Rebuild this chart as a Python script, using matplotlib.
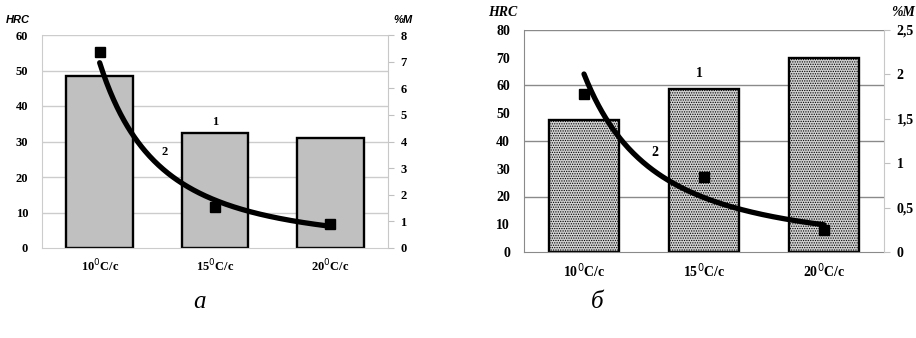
import matplotlib
matplotlib.use("Agg")
import matplotlib.pyplot as plt
import numpy as np
from matplotlib.ticker import FuncFormatter

categories = ["10$^{0}$C/c", "15$^{0}$C/c", "20$^{0}$C/c"]

# panel a
hrc_a = [48.5, 32.5, 31.0]
m_a = [7.37, 1.54, 0.90]
# panel б
hrc_b = [47.5, 58.7, 70.0]
m_b = [1.78, 0.845, 0.25]

panel_letters = ["а", "б"]

SERIF = "Liberation Serif"
SANS = "Liberation Sans"

plt.rcParams["hatch.color"] = "#7a7a7a"
plt.rcParams["hatch.linewidth"] = 0.6

fig = plt.figure(figsize=(9.16, 3.38), dpi=100)


def power_trend(values):
    # Excel-style power trendline through the marker values
    xs = np.arange(1, len(values) + 1)
    b, ln_a = np.polyfit(np.log(xs), np.log(values), 1)
    xx = np.linspace(1, len(values), 200)
    return xx - 1, np.exp(ln_a) * xx ** b


def panel(rect, hrc, pct, hrc_max, hrc_step, pct_max, pct_step, grid_step,
          grid_color, bar_kw, fs, lab1, lab2, pct_fmt):
    ax = fig.add_axes(rect)
    x = np.arange(len(categories))
    ax.bar(x, hrc, width=0.58, edgecolor="black", linewidth=1.7, zorder=2, **bar_kw)
    ax.set_xlim(-0.5, 2.5)
    ax.set_ylim(0, hrc_max)
    ax.set_yticks(np.arange(0, hrc_max + 1, hrc_step))
    for g in np.arange(grid_step, hrc_max + 1, grid_step):
        ax.axhline(g, color=grid_color, lw=1.0, zorder=1)
    ax.set_xticks(x)
    ax.set_xticklabels(categories, fontfamily=SERIF, fontweight="bold", fontsize=fs)
    ax.tick_params(axis="x", length=0, pad=7)
    ax.tick_params(axis="y", length=0, pad=10)
    for t in ax.get_yticklabels():
        t.set_fontfamily(SERIF)
        t.set_fontweight("bold")
        t.set_fontsize(fs)
    for s in ["top", "right"]:
        ax.spines[s].set_visible(False)
    ax.spines["left"].set_color(grid_color)
    ax.spines["bottom"].set_color(grid_color)

    ax2 = ax.twinx()
    ax2.set_ylim(0, pct_max)
    ax2.set_yticks(np.arange(0, pct_max + 1e-9, pct_step))
    ax2.yaxis.set_major_formatter(FuncFormatter(pct_fmt))
    ax2.tick_params(axis="y", length=4, color="#c0c0c0", pad=5)
    for t in ax2.get_yticklabels():
        t.set_fontfamily(SERIF)
        t.set_fontweight("bold")
        t.set_fontsize(fs)
    for s in ["top", "left", "bottom"]:
        ax2.spines[s].set_visible(False)
    ax2.spines["right"].set_color("#c8c8c8")
    cx, cy = power_trend(pct)
    ax2.plot(cx, cy, color="black", lw=3.8, solid_capstyle="round", zorder=3)
    ax2.plot(x, pct, "s", color="black", ms=6.5, zorder=4)
    ax2.text(*lab1, "1", fontfamily=SERIF, fontweight="bold", fontsize=fs,
             ha="center", va="center", transform=ax.transData)
    ax2.text(*lab2, "2", fontfamily=SERIF, fontweight="bold", fontsize=fs,
             ha="center", va="center", transform=ax.transData)
    return ax, ax2


def fmt_int(v, pos):
    return f"{v:.0f}"


def fmt_comma(v, pos):
    s = f"{v:g}"
    return s.replace(".", ",")


# panel a
ax_a, ax_a2 = panel([42 / 916, 90 / 338, 346 / 916, 213 / 338], hrc_a, m_a,
                    60, 10, 8, 1, 10, "#cccccc",
                    dict(color="#c0c0c0"), 9,
                    (1.0, 35.5), (0.56, 27.0), fmt_int)
# panel б
ax_b, ax_b2 = panel([524 / 916, 86 / 338, 360 / 916, 222 / 338], hrc_b, m_b,
                    80, 10, 2.5, 0.5, 20, "#8a8a8a",
                    dict(facecolor="#d2d2d2", hatch="......."), 10,
                    (0.96, 64.5), (0.59, 35.7), fmt_comma)

fig.text(18 / 916, 1 - 20 / 338, "HRC", fontfamily=SANS, fontstyle="italic",
         fontweight="bold", fontsize=8, ha="center", va="center")
fig.text(403 / 916, 1 - 20 / 338, "%M", fontfamily=SANS, fontstyle="italic",
         fontweight="bold", fontsize=8, ha="center", va="center")
fig.text(503 / 916, 1 - 13 / 338, "HRC", fontfamily=SERIF, fontstyle="italic",
         fontweight="bold", fontsize=10, ha="center", va="center")
fig.text(903 / 916, 1 - 13 / 338, "%M", fontfamily=SERIF, fontstyle="italic",
         fontweight="bold", fontsize=10, ha="center", va="center")

for px, letter in zip([200, 597], panel_letters):
    fig.text(px / 916, 1 - 302 / 338, letter, fontfamily=SERIF, fontstyle="italic",
             fontsize=18, ha="center", va="center")

fig.savefig("out.png", dpi=100, facecolor="white")
